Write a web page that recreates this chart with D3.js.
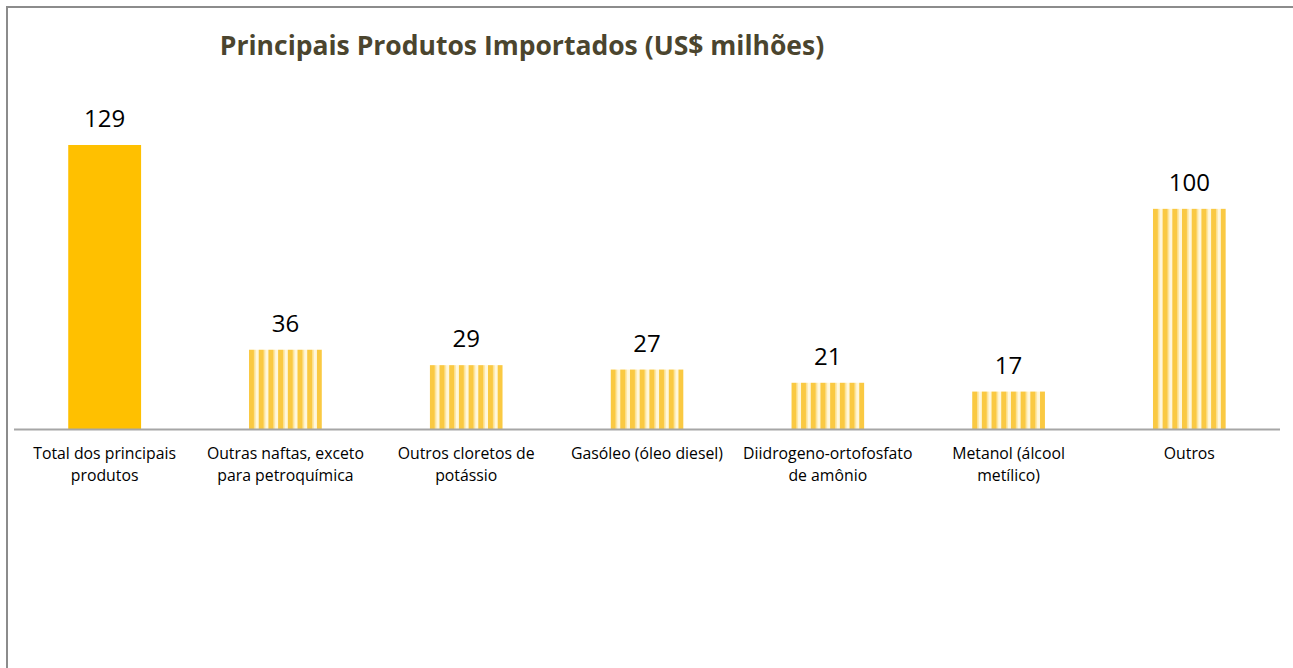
<!DOCTYPE html>
<html>
<head>
<meta charset="utf-8">
<script src="https://cdn.jsdelivr.net/npm/d3@7"></script>
<style>
  html, body { margin: 0; padding: 0; background: #fff; }
  svg { display: block; }
</style>
</head>
<body>
<svg id="chart"></svg>
<script>
// chart data
const categories = [
  "Total dos principais produtos",
  "Outras naftas, exceto para petroquímica",
  "Outros cloretos de potássio",
  "Gasóleo (óleo diesel)",
  "Diidrogeno-ortofosfato de amônio",
  "Metanol (álcool metílico)",
  "Outros"
];
const labelLines = [
  ["Total dos principais", "produtos"],
  ["Outras naftas, exceto", "para petroquímica"],
  ["Outros cloretos de", "potássio"],
  ["Gasóleo (óleo diesel)"],
  ["Diidrogeno-ortofosfato", "de amônio"],
  ["Metanol (álcool", "metílico)"],
  ["Outros"]
];
const values = [129, 36, 29, 27, 21, 17, 100];

const width = 1293
const height = 668
const svg = d3.select("#chart").attr("width", width).attr("height", height)

// outer frame (goes past right & bottom edge like the screenshot)
svg.append("rect")
  .attr("x", 7).attr("y", 7)
  .attr("width", width + 20).attr("height", height + 20)
  .attr("fill", "#fff")
  .attr("stroke", "#8c8c8c")
  .attr("stroke-width", 2)

const x = d3.scaleBand()
  .domain(categories)
  .range([14, 1280])
  .paddingInner(0.597)
  .paddingOuter(0.3)

const y = d3.scaleLinear()
  .domain([0, 140])
  .range([429, 429 - 140 * 2.2016])

// striped fill, one pattern per bar so stripes start at bar's left edge
const defs = svg.append("defs")
categories.forEach((c, i) => {
  const p = defs.append("pattern")
    .attr("id", "stripe" + i)
    .attr("patternUnits", "userSpaceOnUse")
    .attr("x", x(c))
    .attr("y", 0)
    .attr("width", 9.7)
    .attr("height", 10)
  p.append("rect").attr("width", 9.7).attr("height", 10).attr("fill", "#fff7dc")
  p.append("rect").attr("width", 5.4).attr("height", 10).attr("fill", "#fac942")
  p.append("rect").attr("x", 5.4).attr("width", 1.2).attr("height", 10).attr("fill", "#fde6a0")
})

// bars
svg.append("g")
  .selectAll("rect")
  .data(values)
  .join("rect")
    .attr("x", (d, i) => x(categories[i]))
    .attr("y", d => y(d))
    .attr("width", x.bandwidth())
    .attr("height", d => y(0) - y(d))
    .attr("fill", (d, i) => i === 0 ? "#ffc000" : "url(#stripe" + i + ")")

// axis line
svg.append("line")
  .attr("x1", 14).attr("x2", 1280)
  .attr("y1", y(0) + 0.5).attr("y2", y(0) + 0.5)
  .attr("stroke", "#a6a6a6")
  .attr("stroke-width", 2)

// value labels
svg.append("g")
  .selectAll("text")
  .data(values)
  .join("text")
    .attr("x", (d, i) => x(categories[i]) + x.bandwidth() / 2)
    .attr("y", d => y(d) - 18)
    .attr("text-anchor", "middle")
    .attr("font-family", "'Open Sans', sans-serif")
    .attr("font-size", 24)
    .attr("fill", "#000")
    .text(d => d)

// category labels
const catG = svg.append("g")
labelLines.forEach((lines, i) => {
  const t = catG.append("text")
    .attr("x", x(categories[i]) + x.bandwidth() / 2)
    .attr("y", 459)
    .attr("text-anchor", "middle")
    .attr("font-family", "'Open Sans', sans-serif")
    .attr("font-size", 15.8)
    .attr("fill", "#000")
  lines.forEach((l, j) => {
    t.append("tspan")
      .attr("x", x(categories[i]) + x.bandwidth() / 2)
      .attr("dy", j === 0 ? 0 : 22)
      .text(l)
  })
})

// title
svg.append("text")
  .attr("x", 522)
  .attr("y", 55)
  .attr("text-anchor", "middle")
  .attr("font-family", "'Open Sans', sans-serif")
  .attr("font-weight", "bold")
  .attr("font-size", 26.5)
  .attr("fill", "#4b452e")
  .text("Principais Produtos Importados (US$ milhões)")
</script>
</body>
</html>
